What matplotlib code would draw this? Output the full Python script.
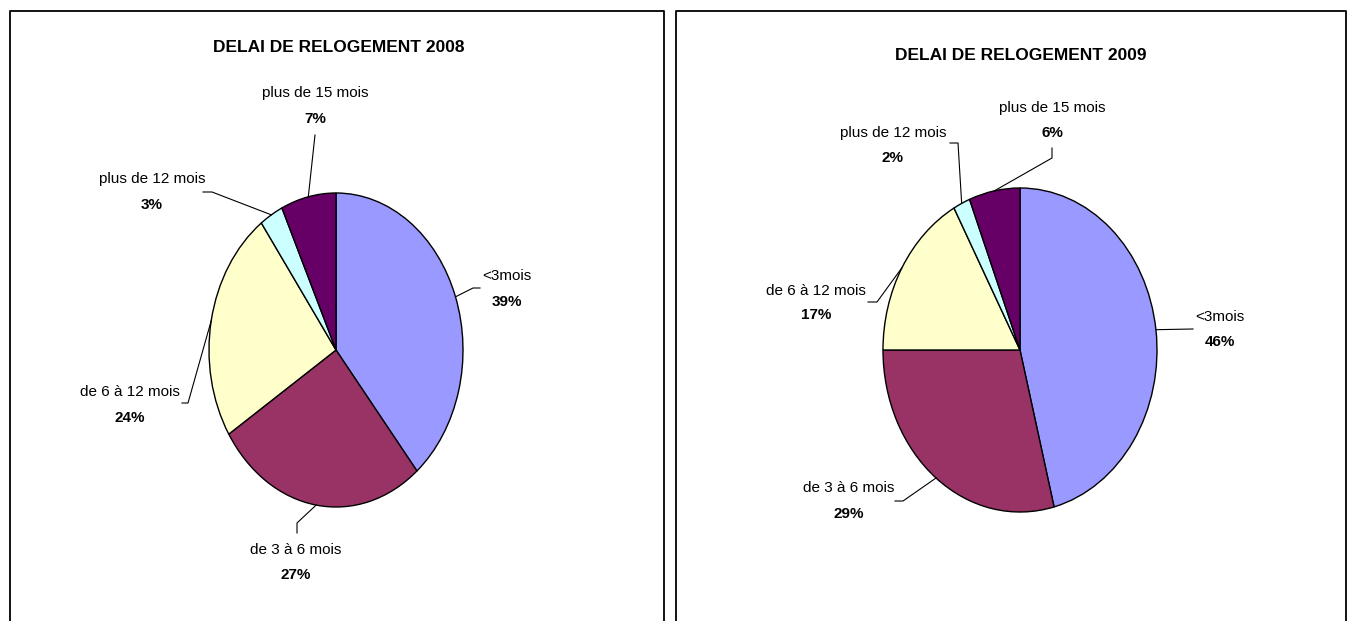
import matplotlib
matplotlib.use("Agg")
import matplotlib.pyplot as plt
import numpy as np

# ---------------- data ----------------
categories = ["<3mois", "de 3 à 6 mois", "de 6 à 12 mois", "plus de 12 mois", "plus de 15 mois"]
values_2008 = [39, 27, 24, 3, 7]
values_2009 = [46, 29, 17, 2, 6]
titles = ["DELAI DE RELOGEMENT 2008", "DELAI DE RELOGEMENT 2009"]

colors = ["#9999FF", "#993366", "#FFFFCC", "#CCFFFF", "#660066"]

W, H = 1353, 621
fig = plt.figure(figsize=(W / 100, H / 100), dpi=100)

FAM = ["Liberation Sans", "DejaVu Sans"]


def fx(x):
    return x / W


def fy(y):
    return 1 - y / H


# panel borders (pixel coords)
panels = [(10, 664), (676, 1346)]
for x0, x1 in panels:
    fig.add_artist(plt.Line2D([fx(x0), fx(x0), fx(x1), fx(x1)],
                              [fy(H + 5), fy(11), fy(11), fy(H + 5)],
                              transform=fig.transFigure, color="black", lw=1.3))

# pie geometry (pixel) : center x, center y, rx, ry
pies = [(336, 350, 127, 157), (1020, 350, 137, 162)]
title_pos = [(339, 48), (1021, 55)]

# label layout per slice: (text center x, first-line y, second-line y, leader path pts after anchor)
layouts = [
    [
        (507, 276, 302, [(473, 288), (480, 288)]),
        (296, 550, 575, [(297, 523), (297, 533)]),
        (130, 392, 418, [(188, 403), (182, 403)]),
        (152, 179, 205, [(212, 192), (203, 192)]),
        (315, 93, 119, [(315, 135)]),
    ],
    [
        (1220, 317, 342, [(1193, 329)]),
        (849, 488, 514, [(903, 501), (895, 501)]),
        (816, 291, 315, [(877, 302), (868, 302)]),
        (893, 133, 158, [(958, 143), (950, 143)]),
        (1052, 108, 133, [(1052, 158), (1052, 148)]),
    ],
]

for vals, title, (cx, cy, rx, ry), (tx, ty), lay in zip(
        [values_2008, values_2009], titles, pies, title_pos, layouts):
    ax = fig.add_axes([fx(cx - rx), fy(cy + ry), 2 * rx / W, 2 * ry / H])
    wedges, _ = ax.pie(vals, colors=colors, startangle=90, counterclock=False,
                       radius=1, wedgeprops=dict(edgecolor="black", linewidth=1.0))
    ax.set_aspect("auto")
    ax.set_xlim(-1, 1)
    ax.set_ylim(-1, 1)
    ax.axis("off")

    fig.text(fx(tx), fy(ty), title, ha="center", va="center", family=FAM,
             fontweight="bold", fontsize=12.5)

    for w, cat, v, (lx, l1, l2, path) in zip(wedges, categories, vals, lay):
        mid = np.deg2rad((w.theta1 + w.theta2) / 2)
        axp = cx + rx * np.cos(mid)
        ayp = cy - ry * np.sin(mid)
        xs = [axp] + [p[0] for p in path]
        ys = [ayp] + [p[1] for p in path]
        fig.add_artist(plt.Line2D([fx(x) for x in xs], [fy(y) for y in ys],
                                  transform=fig.transFigure, color="black", lw=0.8))
        fig.text(fx(lx), fy(l1), cat, ha="center", va="center", family=FAM, fontsize=11)
        fig.text(fx(lx), fy(l2), f"{v}%", ha="center", va="center", family=FAM,
                 fontsize=11, fontweight="bold")

fig.savefig("out.png", dpi=100, facecolor="white")
